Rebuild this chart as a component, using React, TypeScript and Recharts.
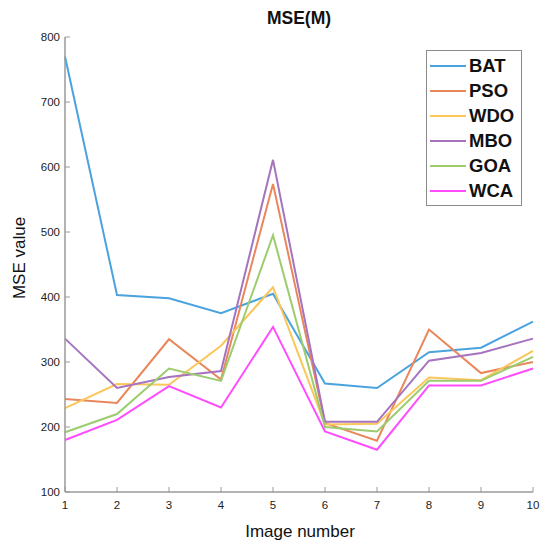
import React from "react";
import { LineChart, Line, XAxis, YAxis } from "recharts";

const IMAGES = [1, 2, 3, 4, 5, 6, 7, 8, 9, 10];
const Y_TICKS = [100, 200, 300, 400, 500, 600, 700, 800];

const BAT = [770, 403, 398, 375, 405, 267, 260, 315, 322, 362];
const PSO = [243, 237, 335, 273, 574, 206, 179, 350, 283, 300];
const WDO = [229, 266, 265, 325, 415, 204, 205, 276, 272, 317];
const MBO = [336, 260, 277, 286, 611, 208, 208, 302, 314, 336];
const GOA = [192, 220, 290, 271, 495, 200, 193, 271, 271, 308];
const WCA = [180, 211, 263, 230, 354, 193, 165, 264, 264, 290];

const SERIES = [
  { key: "BAT", values: BAT, color: "#4ba3dd" },
  { key: "PSO", values: PSO, color: "#e9875a" },
  { key: "WDO", values: WDO, color: "#fbc65a" },
  { key: "MBO", values: MBO, color: "#a673bf" },
  { key: "GOA", values: GOA, color: "#9ccc6e" },
  { key: "WCA", values: WCA, color: "#ff4cff" },
];

const data = IMAGES.map((img, i) => {
  const row: Record<string, number> = { img };
  SERIES.forEach((s) => (row[s.key] = s.values[i]));
  return row;
});

const FONT = "'Liberation Sans', Arial, sans-serif";
const AXIS = "#9a9a9a";
const TICK = 5;

// matlab-style ticks: short marks pointing into the plot box
const BottomTick = ({ x, y, payload }: any) => (
  <g>
    <line x1={x} x2={x} y1={y} y2={y - TICK} stroke={AXIS} />
    <text x={x} y={y + 17} textAnchor="middle" fontSize={11.5} fill="#222" fontFamily={FONT}>
      {payload.value}
    </text>
  </g>
);

const TopTick = ({ x, y }: any) => <line x1={x} x2={x} y1={y} y2={y + TICK} stroke={AXIS} />;

const LeftTick = ({ x, y, payload }: any) => (
  <g>
    <line x1={x} x2={x + TICK} y1={y} y2={y} stroke={AXIS} />
    <text x={x - 5} y={y + 4} textAnchor="end" fontSize={11.5} fill="#222" fontFamily={FONT}>
      {payload.value}
    </text>
  </g>
);

const RightTick = ({ x, y }: any) => <line x1={x} x2={x - TICK} y1={y} y2={y} stroke={AXIS} />;

const LegendBox = () => (
  <div
    style={{
      position: "absolute",
      left: 426,
      top: 50,
      border: "1px solid #8a8a8a",
      background: "#fff",
      width: 96,
      padding: "2px 0 2px 0",
      fontFamily: FONT,
      boxSizing: "border-box",
    }}
  >
    {SERIES.map((s) => (
      <div key={s.key} style={{ display: "flex", alignItems: "center", height: 25 }}>
        <div style={{ width: 36, height: 2, background: s.color, marginLeft: 3 }} />
        <span style={{ fontSize: 18.5, fontWeight: "bold", color: "#111", marginLeft: 3 }}>{s.key}</span>
      </div>
    ))}
  </div>
);

export default function App() {
  return (
    <div style={{ position: "absolute", left: 0, top: 0, width: 546, height: 547, background: "#fff" }}>
      <LineChart width={546} height={547} data={data} margin={{ top: 37, right: 13, bottom: 0, left: 0 }}>
        <text x={299} y={24} textAnchor="middle" fontSize={17.5} fontWeight="bold" fontFamily={FONT} fill="#111">
          MSE(M)
        </text>
        <text
          x={25}
          y={258}
          transform="rotate(-90 25 258)"
          textAnchor="middle"
          fontSize={17}
          fontFamily={FONT}
          fill="#111"
        >
          MSE value
        </text>
        <text x={300} y={537} textAnchor="middle" fontSize={17} fontFamily={FONT} fill="#111">
          Image number
        </text>
        <XAxis
          dataKey="img"
          type="number"
          domain={[1, 10]}
          ticks={IMAGES}
          height={55}
          tickSize={0}
          tickMargin={0}
          tickLine={false}
          axisLine={{ stroke: AXIS, strokeWidth: 1.5 }}
          tick={<BottomTick />}
          interval={0}
        />
        <XAxis
          xAxisId="top"
          dataKey="img"
          type="number"
          orientation="top"
          domain={[1, 10]}
          ticks={IMAGES}
          height={0}
          tickSize={0}
          tickMargin={0}
          tickLine={false}
          axisLine={{ stroke: AXIS, strokeWidth: 1.5 }}
          tick={<TopTick />}
          interval={0}
        />
        <YAxis
          domain={[100, 800]}
          ticks={Y_TICKS}
          width={65}
          tickSize={0}
          tickMargin={0}
          tickLine={false}
          axisLine={{ stroke: AXIS, strokeWidth: 1.5 }}
          tick={<LeftTick />}
          interval={0}
        />
        <YAxis
          yAxisId="right"
          orientation="right"
          domain={[100, 800]}
          ticks={Y_TICKS}
          width={0}
          tickSize={0}
          tickMargin={0}
          tickLine={false}
          axisLine={{ stroke: AXIS, strokeWidth: 1.5 }}
          tick={<RightTick />}
          interval={0}
        />
        {SERIES.map((s) => (
          <Line
            key={s.key}
            dataKey={s.key}
            stroke={s.color}
            strokeWidth={2}
            dot={false}
            isAnimationActive={false}
          />
        ))}
      </LineChart>
      <LegendBox />
    </div>
  );
}
